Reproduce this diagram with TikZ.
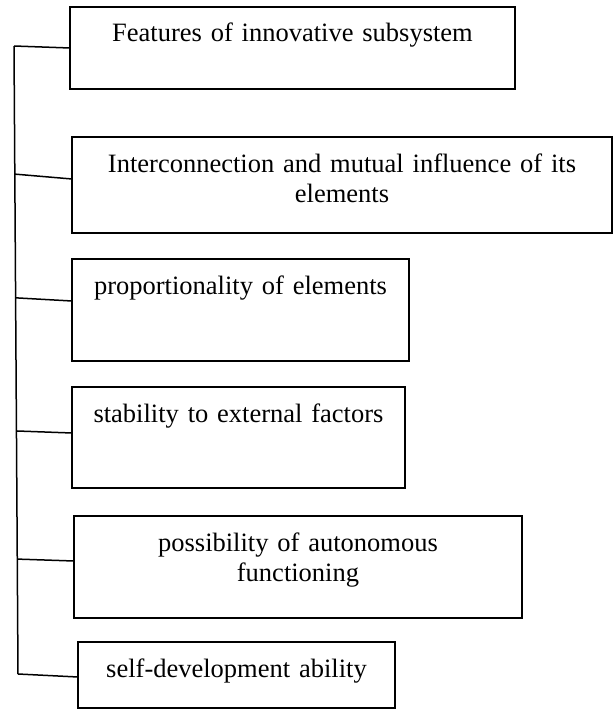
\documentclass[tikz,border=0pt]{standalone}
\usepackage{fontspec}
\setmainfont{Liberation Serif}
\usetikzlibrary{calc, positioning}

\begin{document}
\begin{tikzpicture}[x=1pt, y=-1pt, font=\fontsize{26.5}{30.5}\selectfont]
\tikzset{every node/.style={inner sep=0mm, outer sep=0mm}}

\tikzstyle{feature}=[rectangle, draw=black, fill=white, line width=1.5pt, align=center, text height=35pt]
\tikzstyle{link}=[line width=1.5pt]

\useasboundingbox (0,0) rectangle (614,709);

\node[feature, text width=445pt, text depth=47pt, anchor=north west] (features box) at (70,7) {Features of innovative subsystem};
\node[feature, text width=540pt, text depth=61pt, below=48pt of features box.south west, anchor=north west, xshift=2pt] (interconnection box) {Interconnection and mutual influence of its\\ elements};
\node[feature, text width=337pt, text depth=67pt, below=26pt of interconnection box.south west, anchor=north west] (proportionality box) {proportionality of elements};
\node[feature, text width=333pt, text depth=66pt, below=26pt of proportionality box.south west, anchor=north west] (stability box) {stability to external factors};
\node[feature, text width=448pt, text depth=67pt, below=28pt of stability box.south west, anchor=north west, xshift=2pt] (autonomy box) {possibility of autonomous\\ functioning};
\node[feature, text width=317pt, text depth=31pt, below=24pt of autonomy box.south west, anchor=north west, xshift=4pt] (development box) {self-development ability};

% trunk
\coordinate (trunk top) at (14,46);
\coordinate (trunk bottom) at (18,674);
\draw[link] (trunk top) -- (trunk bottom);

\path[link] (trunk top) edge (features box.west);
\path[link] ($(trunk top)!0.204!(trunk bottom)$) edge ([yshift=6pt]interconnection box.west);
\path[link] ($(trunk top)!0.401!(trunk bottom)$) edge ([yshift=9pt]proportionality box.west);
\path[link] ($(trunk top)!0.613!(trunk bottom)$) edge ([yshift=4.5pt]stability box.west);
\path[link] ($(trunk top)!0.817!(trunk bottom)$) edge ([yshift=6pt]autonomy box.west);
\path[link] (trunk bottom) edge ([yshift=-2pt]development box.west);

\end{tikzpicture}
\end{document}
